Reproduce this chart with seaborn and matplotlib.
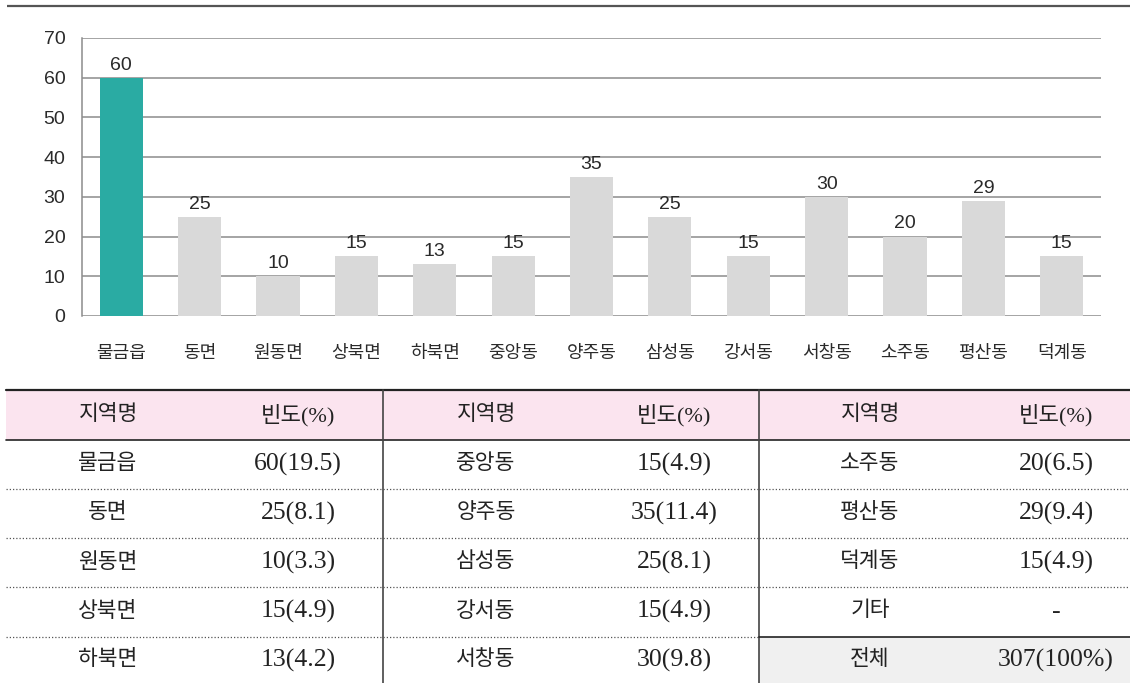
import matplotlib
matplotlib.use("Agg")
import matplotlib.pyplot as plt
import seaborn as sns

# Respondents by district (counts)
regions = ["물금읍", "동면", "원동면", "상북면", "하북면", "중앙동", "양주동",
           "삼성동", "강서동", "서창동", "소주동", "평산동", "덕계동"]
counts = [60, 25, 10, 15, 13, 15, 35, 25, 15, 30, 20, 29, 15]
highlight = "물금읍"
y_ticks = [0, 10, 20, 30, 40, 50, 60, 70]
other_label = "기타"
other_value = "-"
total_label = "전체"
header_name = "지역명"
header_freq = "빈도(%)"

TEAL = "#2aaba3"
LIGHT = "#d9d9d9"
GRID = "#8c8c8c"
TEXT = "#2a2a2a"

sns.set_theme(style="white")
plt.rcParams["font.family"] = ["Liberation Sans", "Noto Sans CJK KR"]

W, H = 1130, 683
fig = plt.figure(figsize=(W / 100, H / 100), dpi=100)

# ---- frame / table layer in pixel coordinates ----
tab = fig.add_axes([0, 0, 1, 1], zorder=0)
tab.set_xlim(0, W)
tab.set_ylim(H, 0)
tab.axis("off")
tab.patch.set_visible(False)

# top rule
tab.plot([7, W], [6, 6], color="#555555", lw=1.6, solid_capstyle="butt")

# ---- bar chart ----
left, right, top, bottom = 82, 1101, 38, 316
ax = fig.add_axes([left / W, 1 - bottom / H, (right - left) / W, (bottom - top) / H], zorder=2)
ax.patch.set_visible(False)
palette = [TEAL if r == highlight else LIGHT for r in regions]
sns.barplot(x=regions, y=counts, hue=regions, palette=palette, legend=False,
            width=0.55, saturation=1, linewidth=0, ax=ax, zorder=3)
ax.set_xlim(-0.5, len(regions) - 0.5)
ax.set_ylim(y_ticks[0], y_ticks[-1])
ax.set_yticks(y_ticks)
ax.yaxis.grid(True, color=GRID, lw=1.1)
ax.xaxis.grid(False)
ax.set_axisbelow(True)
for s in ["top", "right", "bottom"]:
    ax.spines[s].set_visible(False)
ax.spines["left"].set_color(GRID)
ax.spines["left"].set_linewidth(1.1)
ax.tick_params(axis="y", length=0, pad=12, labelsize=14, labelcolor=TEXT)
ax.tick_params(axis="x", length=0, pad=21, labelsize=13, labelcolor=TEXT)
for lab in ax.get_xticklabels():
    lab.set_fontweight("medium")
ax.set_xlabel("")
ax.set_ylabel("")
for c in ax.containers:
    ax.bar_label(c, padding=3, fontsize=14, color=TEXT)
for lab in ax.get_yticklabels():
    lab.set_horizontalalignment("right")

# ---- frequency table ----
total = sum(counts)
cells = [(r, f"{c}({c / total * 100:.1f})") for r, c in zip(regions, counts)]
cells.append((other_label, other_value))
cells.append((total_label, f"{total}(100%)"))
groups = [cells[0:5], cells[5:10], cells[10:15]]

t_top, h_bot, t_bot = 390, 440, H
row_edges = [440, 488.5, 538, 587, 636.5, H]
group_edges = [6, 383, 759, 1128]
name_x = [108, 486, 870]
val_x = [298, 674, 1056]

tab.fill_between([group_edges[0], W], t_top, h_bot, color="#fbe4ef", lw=0)
tab.fill_between([group_edges[2], W], row_edges[4], t_bot, color="#f0f0f0", lw=0)
tab.plot([group_edges[0], W], [t_top, t_top], color="#222222", lw=1.6)
tab.plot([group_edges[0], W], [h_bot, h_bot], color="#222222", lw=1.2)
for gx in group_edges[1:3]:
    tab.plot([gx, gx], [t_top, t_bot], color="#444444", lw=1.2)
for i, ry in enumerate(row_edges[1:-1]):
    for g in range(3):
        x0, x1 = group_edges[g], (group_edges[g + 1] if g < 2 else W)
        if g == 2 and i == 3:
            tab.plot([x0, x1], [ry, ry], color="#222222", lw=1.2)
        else:
            tab.plot([x0, x1], [ry, ry], color="#555555", lw=0.9, ls=(0, (1, 1.6)))

tfam = ["Liberation Serif", "Noto Sans CJK KR"]
hy = (t_top + h_bot) / 2
for g in range(3):
    tab.text(name_x[g], hy, header_name, ha="center", va="center",
             fontsize=15.5, color="#222222", family=tfam)
    tab.text(val_x[g], hy, header_freq, ha="center", va="center",
             fontsize=16, color="#222222", family=tfam)
    for k, (name, val) in enumerate(groups[g]):
        cy = (row_edges[k] + row_edges[k + 1]) / 2 if k < 4 else 660
        tab.text(name_x[g], cy, name, ha="center", va="center",
                 fontsize=15.5, color="#222222", family=tfam)
        tab.text(val_x[g], cy, val, ha="center", va="center",
                 fontsize=18.5, color="#222222", family=tfam)

fig.savefig("out.png", dpi=100)
